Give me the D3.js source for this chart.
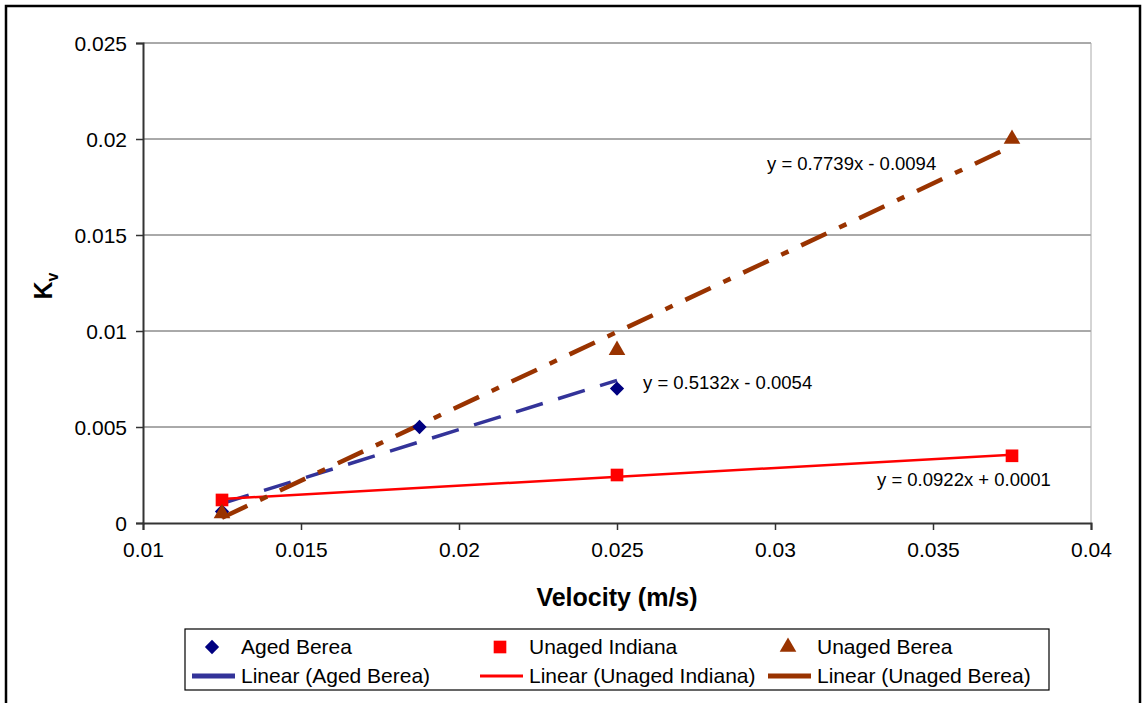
<!DOCTYPE html>
<html>
<head>
<meta charset="utf-8">
<script src="https://cdn.jsdelivr.net/npm/d3@7"></script>
<style>
  body { margin: 0; background: #fff; }
  svg { display: block; font-family: "Liberation Sans", Arial, sans-serif; }
</style>
</head>
<body>
<div class="canvas"></div>
<script>
// data
const agedBerea = [[0.0125, 0.0006], [0.01875, 0.005], [0.025, 0.007]];
const unagedIndiana = [[0.0125, 0.0012], [0.025, 0.0025], [0.0375, 0.0035]];
const unagedBerea = [[0.0125, 0.0005], [0.025, 0.009], [0.0375, 0.02]];
const fits = [
  { name: "Aged Berea", slope: 0.5132, icpt: -0.0054, label: "y = 0.5132x - 0.0054" },
  { name: "Unaged Indiana", slope: 0.0922, icpt: 0.0001, label: "y = 0.0922x + 0.0001" },
  { name: "Unaged Berea", slope: 0.7739, icpt: -0.0094, label: "y = 0.7739x - 0.0094" }
];
const xTicks = [0.01, 0.015, 0.02, 0.025, 0.03, 0.035, 0.04];
const yTicks = [0, 0.005, 0.01, 0.015, 0.02, 0.025];

const W = 1146, H = 703;
const plot = { left: 143, right: 1091, top: 43, bottom: 523 };

const series = [
  { name: "Aged Berea", data: agedBerea, marker: d3.symbolDiamond2, mSize: 130, mColor: "#000080",
    line: "#333399", lw: 3.5, dash: "28,16", lab: [26, -6] },
  { name: "Unaged Indiana", data: unagedIndiana, marker: d3.symbolSquare, mSize: 160, mColor: "#ff0000",
    line: "#ff0000", lw: 2.5, dash: null, lab: [-135, 24] },
  { name: "Unaged Berea", data: unagedBerea, marker: d3.symbolTriangle, mSize: 120, mColor: "#993300",
    line: "#993300", lw: 4.5, dash: "28,14,8,14", lab: [-245, 25] }
];

const svg = d3.select('.canvas').append('svg')
  .attr('width', W).attr('height', H);

// outer frame
svg.append('rect')
  .attr('x', 6).attr('y', 6).attr('width', 1134).attr('height', 720)
  .attr('fill', 'none').attr('stroke', '#000').attr('stroke-width', 2.5);

const x = d3.scaleLinear().domain([0.01, 0.04]).range([plot.left, plot.right]);
const y = d3.scaleLinear().domain([0, 0.025]).range([plot.bottom, plot.top]);

// gridlines
svg.append('g').selectAll('line').data(yTicks.slice(1)).join('line')
  .attr('x1', plot.left).attr('x2', plot.right)
  .attr('y1', d => y(d)).attr('y2', d => y(d))
  .attr('stroke', '#555').attr('stroke-width', 1);

// right edge of plot area
svg.append('line')
  .attr('x1', plot.right).attr('x2', plot.right)
  .attr('y1', plot.top).attr('y2', plot.bottom)
  .attr('stroke', '#aaa').attr('stroke-width', 1);

// axes
const xAxis = svg.append('g')
  .attr('transform', `translate(0,${plot.bottom})`)
  .call(d3.axisBottom(x).tickValues(xTicks).tickSize(7).tickPadding(12).tickFormat(d3.format('')));
const yAxis = svg.append('g')
  .attr('transform', `translate(${plot.left},0)`)
  .call(d3.axisLeft(y).tickValues(yTicks).tickSize(7).tickPadding(9).tickFormat(d3.format('')));

[xAxis, yAxis].forEach(a => {
  a.select('.domain').attr('stroke', '#333').attr('stroke-width', 2);
  a.selectAll('.tick line').attr('stroke', '#333').attr('stroke-width', 1.5);
  a.selectAll('text').attr('font-size', 21).attr('fill', '#000')
    .attr('font-family', '"Liberation Sans", Arial, sans-serif');
});
yAxis.selectAll('text').attr('dy', '0.35em');

// axis titles
svg.append('text')
  .attr('x', (plot.left + plot.right) / 2).attr('y', 606)
  .attr('text-anchor', 'middle').attr('font-size', 25).attr('font-weight', 'bold')
  .text('Velocity (m/s)');

const kv = svg.append('text')
  .attr('transform', `translate(52,286) rotate(-90)`)
  .attr('text-anchor', 'middle').attr('font-size', 25).attr('font-weight', 'bold');
kv.append('tspan').text('K');
kv.append('tspan').attr('font-size', 16).attr('dy', 6).text('v');

// trend lines
series.forEach((s, i) => {
  const f = fits[i];
  const xs = d3.extent(s.data, d => d[0]);
  const pts = xs.map(v => [v, f.slope * v + f.icpt]);
  svg.append('line')
    .attr('x1', x(pts[0][0])).attr('y1', y(pts[0][1]))
    .attr('x2', x(pts[1][0])).attr('y2', y(pts[1][1]))
    .attr('stroke', s.line).attr('stroke-width', s.lw)
    .attr('stroke-dasharray', s.dash);
});

// markers
series.forEach(s => {
  svg.append('g').selectAll('path').data(s.data).join('path')
    .attr('transform', d => `translate(${x(d[0])},${y(d[1])})`)
    .attr('d', d3.symbol(s.marker, s.mSize))
    .attr('fill', s.mColor);
});

// equation labels
series.forEach((s, i) => {
  const last = s.data[s.data.length - 1];
  svg.append('text')
    .attr('x', x(last[0]) + s.lab[0]).attr('y', y(last[1]) + s.lab[1])
    .attr('dy', '0.35em').attr('font-size', 18.5)
    .text(fits[i].label);
});

// legend
const legend = svg.append('g');
legend.append('rect')
  .attr('x', 185).attr('y', 629).attr('width', 864).attr('height', 61)
  .attr('fill', '#fff').attr('stroke', '#000').attr('stroke-width', 1.2);
const colX = [241, 529, 817];
series.forEach((s, i) => {
  const tx = colX[i];
  legend.append('path')
    .attr('transform', `translate(${tx - 29},${647})`)
    .attr('d', d3.symbol(s.marker, s.mSize))
    .attr('fill', s.mColor);
  legend.append('text').attr('x', tx).attr('y', 647).attr('dy', '0.35em')
    .attr('font-size', 21).text(s.name);
  legend.append('line')
    .attr('x1', tx - 49).attr('x2', tx - 6).attr('y1', 676).attr('y2', 676)
    .attr('stroke', s.line).attr('stroke-width', i === 1 ? 3 : 5);
  legend.append('text').attr('x', tx).attr('y', 676).attr('dy', '0.35em')
    .attr('font-size', 21).text(`Linear (${s.name})`);
});
</script>
</body>
</html>
